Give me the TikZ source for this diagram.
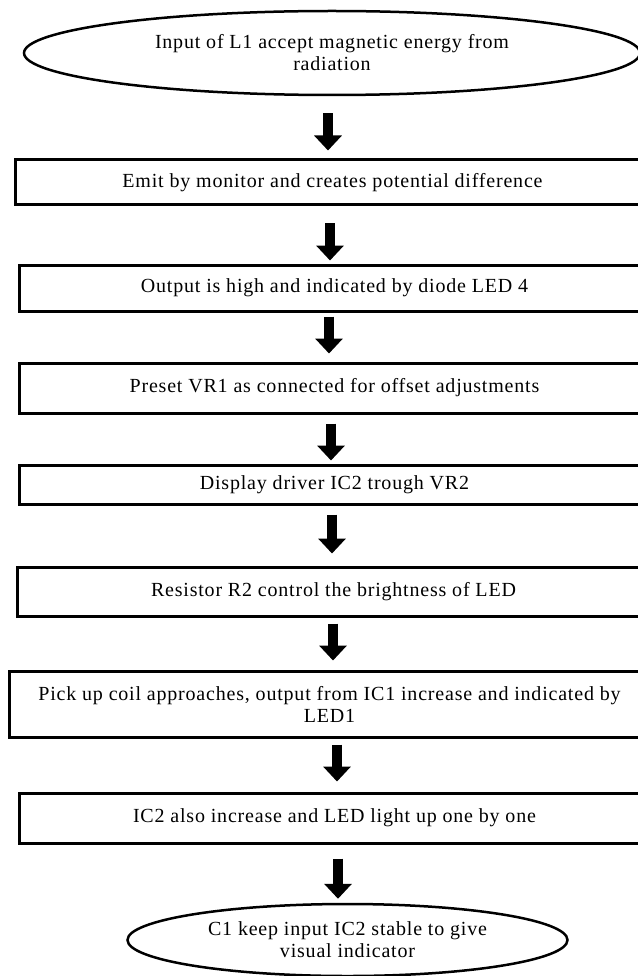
\documentclass[tikz,border=0pt]{standalone}
\usepackage{fontspec}
\setmainfont{Liberation Serif}[LetterSpace=4]
\usetikzlibrary{shapes.geometric,arrows.meta}
\begin{document}
\begin{tikzpicture}[x=1pt,y=-1pt,
  every node/.style={font=\fontsize{20pt}{22pt}\selectfont, align=center, inner sep=0pt},
  stepbox/.style={draw, line width=3pt, rectangle},
  term/.style={draw, line width=2.5pt, ellipse},
  flowarrow/.style={line width=10pt, -{Triangle[width=27pt,length=15pt]}}]
\useasboundingbox (0,0) rectangle (637,976);
\node[term, minimum width=616pt, minimum height=84pt] (e1) at (332,53)
  {Input of L1 accept magnetic energy from\\radiation};
\node[stepbox, minimum width=635pt, minimum height=45pt] (b1) at (332.5,182.5)
  {Emit by monitor and creates potential difference};
\node[stepbox, minimum width=631pt, minimum height=46pt] (b2) at (334.5,288)
  {Output is high and indicated by diode LED 4};
\node[stepbox, minimum width=631pt, minimum height=50pt] (b3) at (334.5,388)
  {Preset VR1 as connected for offset adjustments};
\node[stepbox, minimum width=631pt, minimum height=39pt] (b4) at (334.5,484.5)
  {Display driver IC2 trough VR2};
\node[stepbox, minimum width=633pt, minimum height=49pt] (b5) at (333.5,591.5)
  {Resistor R2 control the brightness of LED};
\node[stepbox, minimum width=641pt, minimum height=66pt] (b6) at (329.5,704)
  {Pick up coil approaches, output from IC1 increase and indicated by\\LED1};
\node[stepbox, minimum width=631pt, minimum height=50pt] (b7) at (334.5,818)
  {IC2 also increase and LED light up one by one};
\node[term, minimum width=440pt, minimum height=72pt] (e2) at (347.5,940)
  {C1 keep input IC2 stable to give\\visual indicator};
\draw[flowarrow] ([shift={(-4pt,-17pt)}]e1.south) -- ([shift={(-4.5pt,8pt)}]b1.north);
\draw[flowarrow] ([shift={(-2.5pt,-17pt)}]b1.south) -- ([shift={(-4.5pt,3pt)}]b2.north);
\draw[flowarrow] ([shift={(-5.5pt,-4pt)}]b2.south) -- ([shift={(-5.5pt,8pt)}]b3.north);
\draw[flowarrow] ([shift={(-3.5pt,-9pt)}]b3.south) -- ([shift={(-3.5pt,3pt)}]b4.north);
\draw[flowarrow] ([shift={(-2.5pt,-9pt)}]b4.south) -- ([shift={(-1.5pt,12pt)}]b5.north);
\draw[flowarrow] ([shift={(-0.5pt,-6pt)}]b5.south) -- ([shift={(3.5pt,9pt)}]b6.north);
\draw[flowarrow] ([shift={(7.5pt,-6pt)}]b6.south) -- ([shift={(2.5pt,10pt)}]b7.north);
\draw[flowarrow] ([shift={(3.5pt,-14pt)}]b7.south) -- ([shift={(-9.5pt,4pt)}]e2.north);
\end{tikzpicture}
\end{document}
